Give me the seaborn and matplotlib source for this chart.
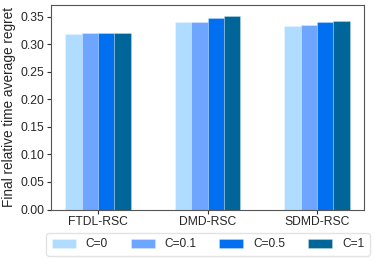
import matplotlib
matplotlib.use("Agg")
import matplotlib.pyplot as plt
import seaborn as sns
import pandas as pd

methods = ["FTDL-RSC", "DMD-RSC", "SDMD-RSC"]
c_labels = ["C=0", "C=0.1", "C=0.5", "C=1"]
vals_c0 = [0.3197, 0.340, 0.333]
vals_c01 = [0.3199, 0.341, 0.3345]
vals_c05 = [0.3203, 0.347, 0.340]
vals_c1 = [0.3212, 0.352, 0.343]
colors = ["#B0DCFF", "#6EA6FF", "#0070F0", "#006699"]

rows = []
for lab, vals in zip(c_labels, [vals_c0, vals_c01, vals_c05, vals_c1]):
    for m, v in zip(methods, vals):
        rows.append({"method": m, "C": lab, "value": v})
df = pd.DataFrame(rows)

sns.set_style("white")
plt.rcParams["font.family"] = ["Liberation Sans", "DejaVu Sans"]

fig = plt.figure(figsize=(3.74, 2.61), dpi=100)
ax = fig.add_axes([51/374, 1 - 209.5/261, (364-51)/374, (209.5-5)/261])
sns.barplot(data=df, x="method", y="value", hue="C", order=methods,
            hue_order=c_labels, palette=colors, width=0.6, ax=ax,
            edgecolor=(1, 1, 1, 0.35), linewidth=0.5, saturation=1)
ax.set_xlim(-0.43, 2.43)
ax.set_ylim(0, 0.3715)
ax.set_yticks([0, 0.05, 0.10, 0.15, 0.20, 0.25, 0.30, 0.35])
ax.set_yticklabels(["0.00", "0.05", "0.10", "0.15", "0.20", "0.25", "0.30", "0.35"])
ax.set_xlabel("")
ax.set_ylabel("Final relative time average regret", fontsize=9.8, labelpad=3)
ax.tick_params(axis="both", labelsize=8.7, length=3, width=0.8, color="#333333",
               bottom=True, left=True, pad=2)
for s in ax.spines.values():
    s.set_color("#555555")
    s.set_linewidth(0.8)
ax.legend_.remove()
handles, labels = ax.get_legend_handles_labels()
fig.legend(handles, labels, loc="center", bbox_to_anchor=(208/374, 1 - 244.3/261),
           ncol=4, fontsize=8.6, frameon=True, handlelength=2.0, handleheight=0.8,
           columnspacing=1.9, handletextpad=0.85, borderpad=0.45,
           edgecolor="#dddddd", fancybox=True)
fig.savefig("out.png", dpi=100)
